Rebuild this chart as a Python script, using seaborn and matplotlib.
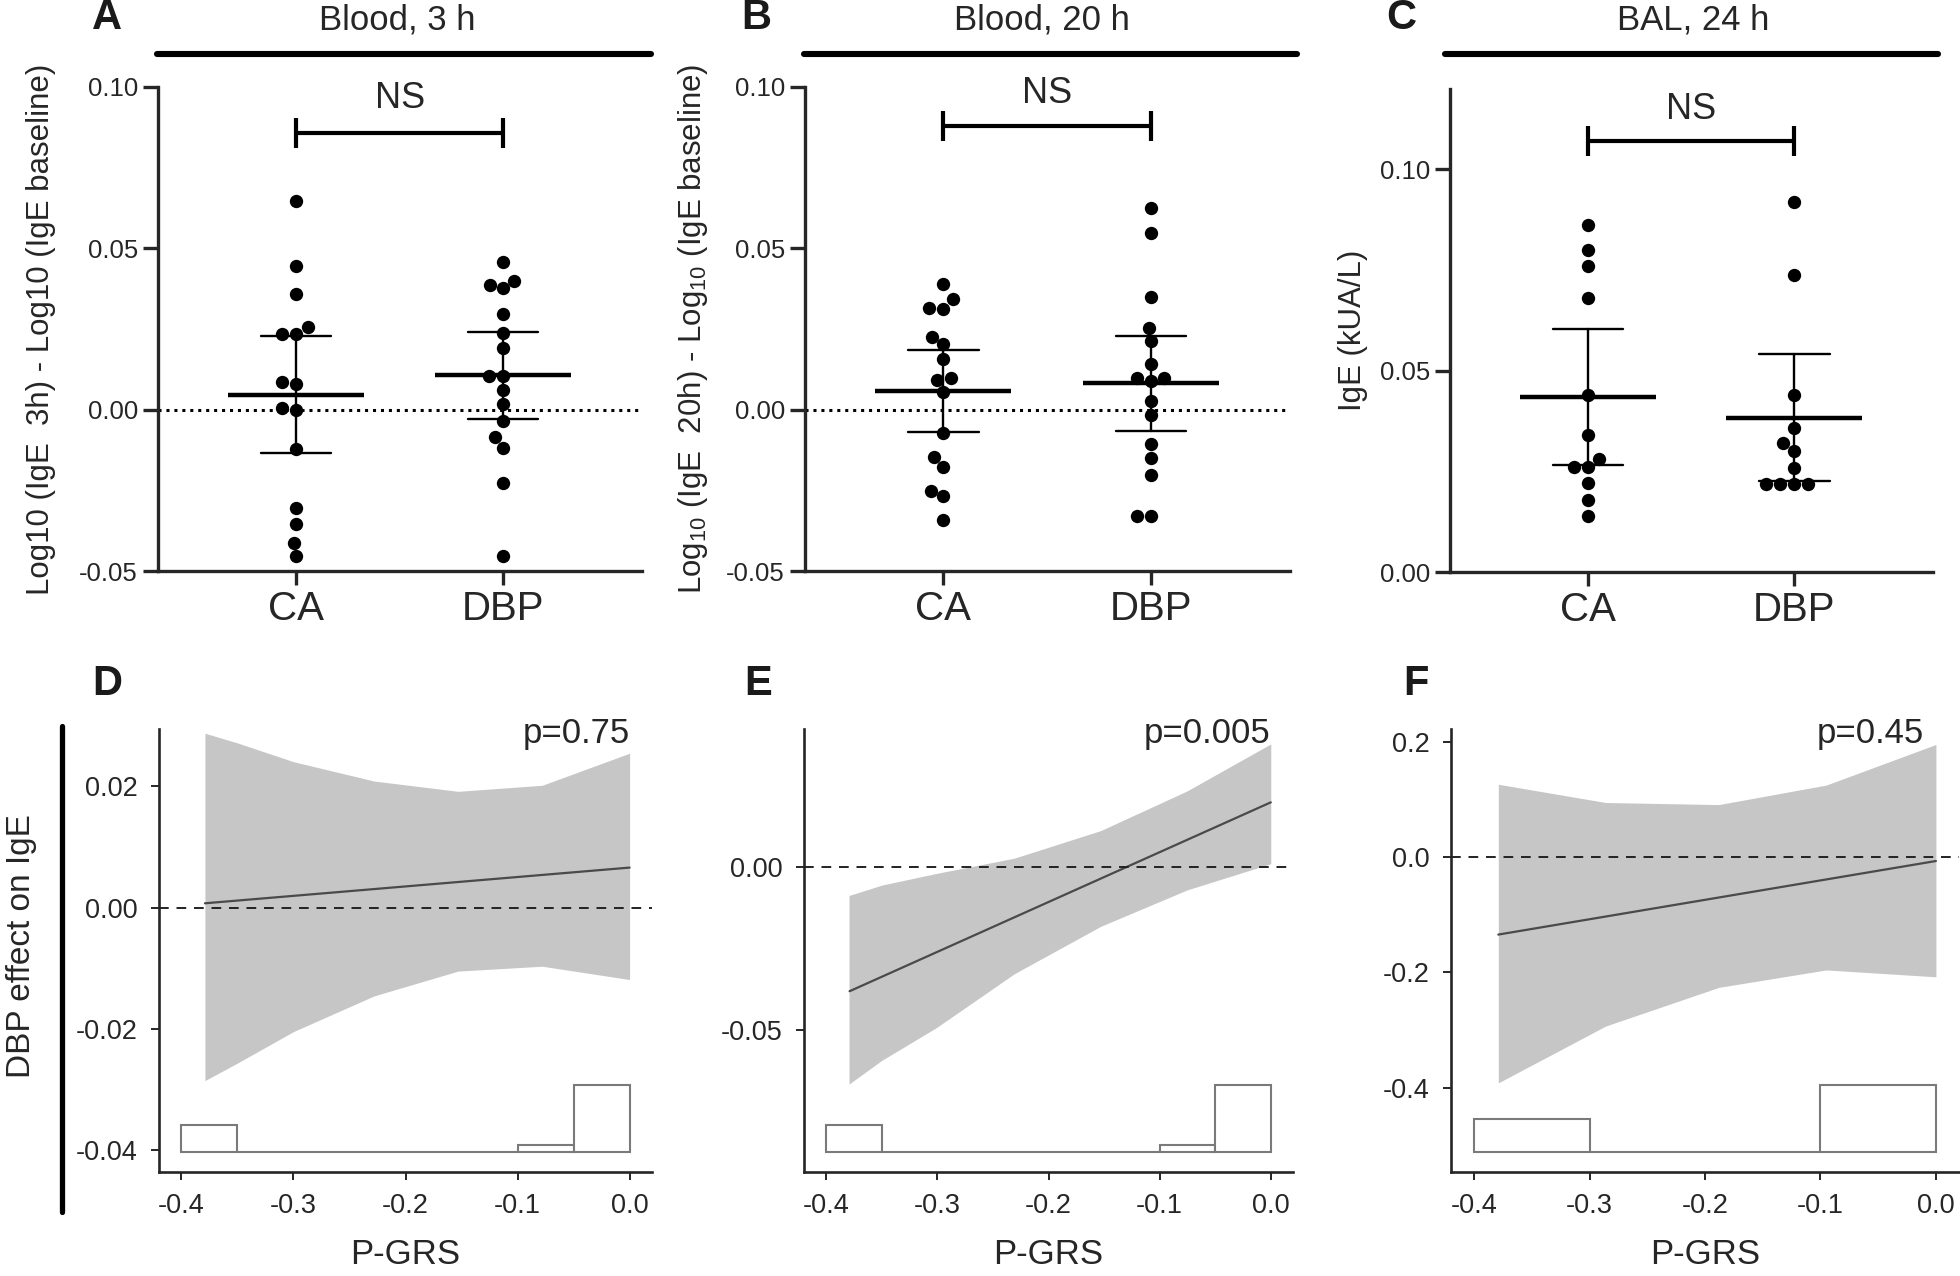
import numpy as np
import pandas as pd
import matplotlib.pyplot as plt
import seaborn as sns
from matplotlib.lines import Line2D
from matplotlib.ticker import FormatStrFormatter

# ---- top row: individual IgE values ----
GROUPS = ["CA", "DBP"]

blood3_ca = [0.0647, 0.0446, 0.0358, 0.0257, 0.0236, 0.0236, 0.0086, 0.0081,
             0.0006, 0.0000, -0.0123, -0.0304, -0.0354, -0.0413, -0.0454]
blood3_dbp = [0.0459, 0.0400, 0.0386, 0.0376, 0.0295, 0.0238, 0.0190, 0.0104,
              0.0104, 0.0062, 0.0017, -0.0035, -0.0085, -0.0118, -0.0228, -0.0452]

blood20_ca = [0.0390, 0.0343, 0.0315, 0.0312, 0.0226, 0.0202, 0.0158, 0.0098,
              0.0092, 0.0055, -0.0073, -0.0147, -0.0177, -0.0251, -0.0269, -0.0343]
blood20_dbp = [0.0624, 0.0548, 0.0349, 0.0253, 0.0212, 0.0141, 0.0098, 0.0098,
               0.0089, 0.0028, -0.0018, -0.0106, -0.0150, -0.0202, -0.0330, -0.0330]

bal24_ca = [0.0861, 0.0801, 0.0760, 0.0681, 0.0440, 0.0341, 0.0281, 0.0260,
            0.0260, 0.0220, 0.0180, 0.0139]
bal24_dbp = [0.0919, 0.0739, 0.0440, 0.0359, 0.0320, 0.0300, 0.0259, 0.0219,
             0.0219, 0.0219, 0.0219]

# ---- bottom row: DBP effect vs P-GRS (ribbon, fit line, P-GRS histogram) ----
d_x = [-0.379, -0.35, -0.30, -0.228, -0.153, -0.078, 0.0]
d_upper = [0.0288, 0.0272, 0.0241, 0.0209, 0.0192, 0.0202, 0.0255]
d_lower = [-0.0286, -0.0257, -0.0205, -0.0146, -0.0105, -0.0097, -0.0119]
d_fit = [0.0007, 0.0066]

e_x = [-0.3795, -0.35, -0.3008, -0.2307, -0.153, -0.0754, 0.0]
e_upper = [-0.0087, -0.0055, -0.0019, 0.0028, 0.0113, 0.0235, 0.0380]
e_lower = [-0.0668, -0.0595, -0.0494, -0.0328, -0.0182, -0.0070, 0.0011]
e_fit = [-0.0382, 0.0200]

f_x = [-0.379, -0.286, -0.188, -0.095, 0.0]
f_upper = [0.126, 0.0944, 0.0908, 0.1246, 0.195]
f_lower = [-0.3915, -0.293, -0.226, -0.1958, -0.2077]
f_fit = [-0.1345, -0.007]

fit_x = [-0.379, 0.0]

blood_edges = [-0.40, -0.35, -0.30, -0.25, -0.20, -0.15, -0.10, -0.05, 0.0]
blood_counts = [4, 0, 0, 0, 0, 0, 1, 10]
bal_edges = [-0.4, -0.3, -0.2, -0.1, 0.0]
bal_counts = [5, 0, 0, 10]

# two-sided 95% t quantiles by degrees of freedom
T95 = {9: 2.262, 10: 2.228, 11: 2.201, 12: 2.179, 13: 2.160, 14: 2.145,
       15: 2.131, 16: 2.120}


def ci95(values):
    values = np.asarray(values)
    n = len(values)
    half = T95[n - 1] * values.std(ddof=1) / np.sqrt(n)
    return values.mean() - half, values.mean() + half


sns.set_theme(style="ticks")
plt.rcParams["font.family"] = ["Liberation Sans", "DejaVu Sans"]
plt.rcParams["mathtext.default"] = "regular"
plt.rcParams["axes.unicode_minus"] = False

W, H = 1960, 1276
fig = plt.figure(figsize=(W / 100, H / 100), dpi=100)


def fig_box(x0, y0, x1, y1):
    return [x0 / W, 1 - y1 / H, (x1 - x0) / W, (y1 - y0) / H]


def scatter_panel(box, ca, dbp, ylim, yticks, ylabel, label_x, ns_y, ns_text_y, zero_line):
    ax = fig.add_axes(box)
    df = pd.DataFrame({"group": ["CA"] * len(ca) + ["DBP"] * len(dbp),
                       "value": ca + dbp})
    ax.set_ylim(*ylim)
    if zero_line:
        ax.axhline(0, color="black", lw=2.2, ls=(0, (1, 1.6)), zorder=1)
    sns.swarmplot(data=df, x="group", y="value", order=GROUPS, color="black",
                  size=9.6, linewidth=0, ax=ax, zorder=3)
    sns.pointplot(data=df, x="group", y="value", order=GROUPS, errorbar=ci95,
                  color="black", markers="_", markersize=98, markeredgewidth=3.2,
                  linestyle="none", capsize=0.34, err_kws={"linewidth": 1.7}, ax=ax)
    ax.set_xlim(-0.667, 1.671)
    ax.set_ylim(*ylim)
    ax.set_yticks(yticks)
    ax.yaxis.set_major_formatter(FormatStrFormatter("%.2f"))
    sns.despine(ax=ax)
    for side in ["left", "bottom"]:
        ax.spines[side].set_linewidth(2.4)
    ax.tick_params(axis="y", labelsize=18.5, length=10.5, width=2.4, pad=4)
    ax.tick_params(axis="x", labelsize=29, length=10, width=2.4, pad=4)
    ax.set_xlabel("")
    ax.set_ylabel(ylabel, fontsize=22.5, va="center")
    ax.yaxis.set_label_coords(label_x, 0.5)
    # significance bracket
    ax.plot([0, 1], [ns_y, ns_y], color="black", lw=3, marker="|",
            markersize=22, markeredgewidth=3, solid_capstyle="butt")
    ax.text(0.5, ns_text_y, "NS", ha="center", va="center", fontsize=26)
    return ax


def effect_panel(box, x, lower, upper, fit, edges, counts, ylim, yticks, yfmt, ptext, ptext_x):
    ax = fig.add_axes(box)
    ax.fill_between(x, lower, upper, color="#c6c6c6", lw=0, zorder=1)
    sns.lineplot(x=fit_x, y=fit, color="#4a4a4a", lw=1.6, ax=ax, zorder=2)
    ax.axhline(0, color="#222222", lw=1.4, ls=(0, (5, 4)), zorder=3)
    ax.set_xlim(-0.42, 0.02)
    ax.set_ylim(*ylim)
    ax.set_yticks(yticks)
    ax.set_xticks([-0.4, -0.3, -0.2, -0.1, 0.0])
    ax.yaxis.set_major_formatter(FormatStrFormatter(yfmt))
    ax.xaxis.set_major_formatter(FormatStrFormatter("%.1f"))
    sns.despine(ax=ax)
    for side in ["left", "bottom"]:
        ax.spines[side].set_linewidth(1.9)
    ax.tick_params(axis="y", labelsize=19.5, length=5.5, width=1.4, pad=10)
    ax.tick_params(axis="x", labelsize=19.5, length=6, width=1.4, pad=9)
    ax.set_xlabel("P-GRS", fontsize=25, labelpad=14)
    ax.set_ylabel("")
    ax.text(ptext_x, 0.968, ptext, transform=ax.get_xaxis_transform(),
            ha="right", va="baseline", fontsize=25)

    # P-GRS distribution drawn along the bottom of the panel
    hx = ax.twinx()
    mids = [(a + b) / 2 for a, b in zip(edges[:-1], edges[1:])]
    sns.histplot(x=mids, weights=counts, bins=edges, ax=hx, color="white",
                 edgecolor="#7a7a7a", linewidth=1.5, alpha=1)
    hx.set_xlim(-0.42, 0.02)
    hx.set_ylim(-2.98, 63.2)
    hx.set_axis_off()
    return ax


scatter_panel(fig_box(158, 87, 642, 571), blood3_ca, blood3_dbp, (-0.05, 0.10),
              [-0.05, 0.0, 0.05, 0.10], "Log10 (IgE  3h) - Log10 (IgE baseline)",
              -0.2417, 0.0857, 0.0965, True)
scatter_panel(fig_box(805, 87, 1290, 571), blood20_ca, blood20_dbp, (-0.05, 0.10),
              [-0.05, 0.0, 0.05, 0.10],
              "Log$_{10}$ (IgE  20h) - Log$_{10}$ (IgE baseline)",
              -0.2318, 0.0878, 0.0979, True)
scatter_panel(fig_box(1450, 89, 1933, 572), bal24_ca, bal24_dbp, (0.0, 0.12),
              [0.0, 0.05, 0.10], "IgE (kUA/L)", -0.2017, 0.1072, 0.1150, False)

effect_panel(fig_box(159, 729, 652, 1172), d_x, d_lower, d_upper, d_fit,
             blood_edges, blood_counts, (-0.0437, 0.0295),
             [-0.04, -0.02, 0.0, 0.02], "%.2f", "p=0.75", 0.0)
effect_panel(fig_box(804, 729, 1293, 1172), e_x, e_lower, e_upper, e_fit,
             blood_edges, blood_counts, (-0.0939, 0.0426),
             [-0.05, 0.0], "%.2f", "p=0.005", 0.0)
effect_panel(fig_box(1451, 729, 1959, 1172), f_x, f_lower, f_upper, f_fit,
             bal_edges, bal_counts, (-0.546, 0.2218),
             [-0.4, -0.2, 0.0, 0.2], "%.1f", "p=0.45", -0.01)

# panel titles, header bars and letters
for cx, title in [(397, "Blood, 3 h"), (1042, "Blood, 20 h"), (1693, "BAL, 24 h")]:
    fig.text(cx / W, 1 - 20 / H, title, ha="center", va="center", fontsize=25)
for x0, x1 in [(157, 651), (804, 1297), (1445, 1938)]:
    fig.add_artist(Line2D([x0 / W, x1 / W], [1 - 54 / H, 1 - 54 / H], color="black",
                          lw=4.4, solid_capstyle="round", transform=fig.transFigure))
for cx, cy, letter in [(107, 18, "A"), (756, 18, "B"), (1401, 18, "C"),
                       (107, 684, "D"), (758, 684, "E"), (1416, 684, "F")]:
    fig.text(cx / W, 1 - cy / H, letter, ha="center", va="center",
             fontsize=30, fontweight="bold", color="#1a1a1a")

fig.add_artist(Line2D([62 / W, 62 / W], [1 - 726 / H, 1 - 1212 / H], color="black",
                      lw=3.8, solid_capstyle="round", transform=fig.transFigure))
fig.text(22 / W, 1 - 946 / H, "DBP effect on IgE", rotation=90, ha="center",
         va="center", fontsize=24)

fig.savefig("out.png", dpi=100, facecolor="white")
